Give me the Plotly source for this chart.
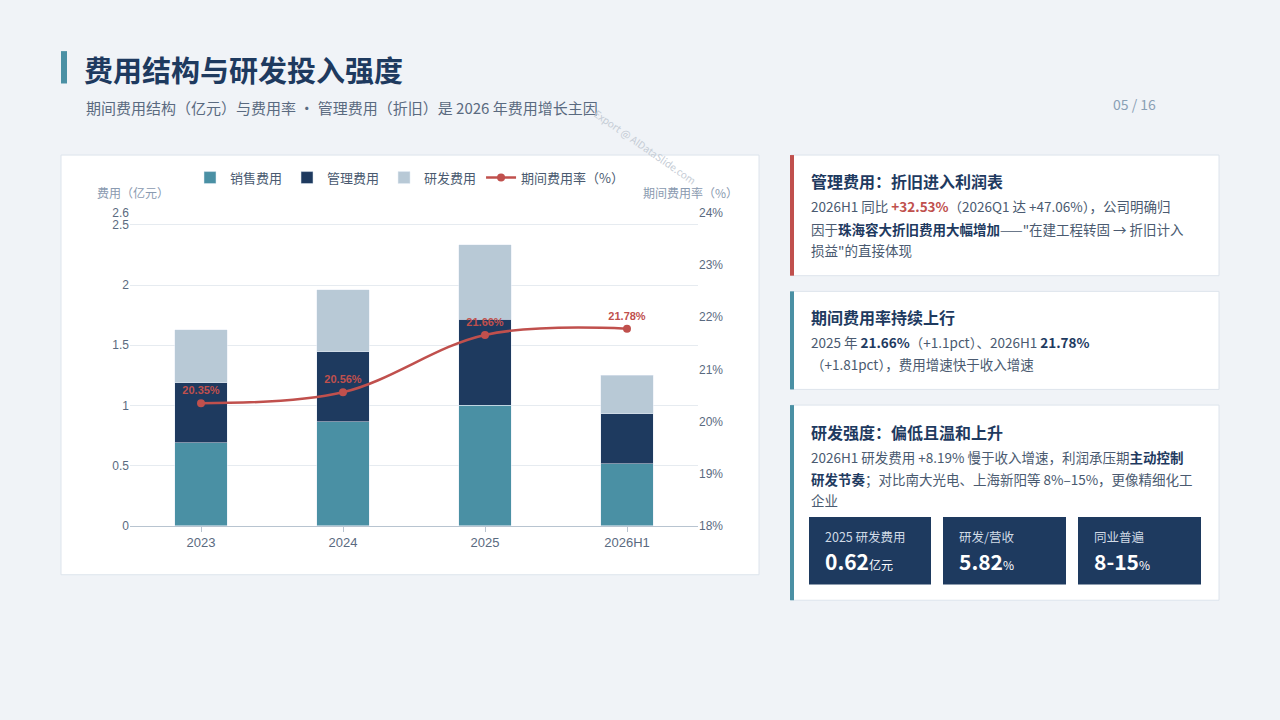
import plotly.graph_objects as go

years = ["2023", "2024", "2025", "2026H1"]
sales = [0.69, 0.865, 1.00, 0.515]
admin = [0.50, 0.58, 0.715, 0.415]
rnd = [0.44, 0.515, 0.62, 0.32]
rate = [20.35, 20.56, 21.66, 21.78]
rate_labels = ["20.35%", "20.56%", "21.66%", "21.78%"]
left_ticks = [0, 0.5, 1, 1.5, 2, 2.5, 2.6]
right_ticks = [18, 19, 20, 21, 22, 23, 24]

TEAL = "#4a90a4"
NAVY = "#1e3a5f"
LIGHT = "#b8c9d6"
RED = "#c0504d"
FONT = "Noto Sans CJK SC"
W, H = 1280, 720


def px(x):
    return x / W


def py(y):
    return 1 - y / H


fig = go.Figure()
fig.add_trace(go.Bar(name="销售费用", x=years, y=sales, marker_color=TEAL, width=0.37))
fig.add_trace(go.Bar(name="管理费用", x=years, y=admin, marker_color=NAVY, width=0.37))
fig.add_trace(go.Bar(name="研发费用", x=years, y=rnd, marker_color=LIGHT, width=0.37))
fig.add_trace(go.Scatter(
    name="期间费用率（%）", x=years, y=rate, yaxis="y2",
    mode="lines+markers+text", line={"color": RED, "width": 2.5, "shape": "spline"},
    marker={"size": 8, "color": RED}, text=rate_labels, textposition="top center",
    textfont={"color": RED, "size": 11, "family": "Liberation Sans"}, texttemplate="<b>%{text}</b>",
))


def rect(x0, x1, y0, y1, fill, line=None):
    return dict(type="rect", xref="paper", yref="paper", x0=px(x0), x1=px(x1), y0=py(y1), y1=py(y0),
                fillcolor=fill, line=line or {"width": 0}, layer="below")


shapes = [
    rect(61, 67, 45, 78, TEAL),
    rect(61, 759, 151, 579, "white", {"color": "#dde4ec", "width": 1}),
]
for y0, y1, col in [(151, 274, RED), (290, 390, TEAL), (406, 605, TEAL)]:
    shapes.append(rect(791, 1219, y0, y1, "white", {"color": "#dde4ec", "width": 1}))
    shapes.append(rect(790, 794, y0, y1, col))
for x0, x1 in [(809, 931), (943, 1066), (1078, 1201)]:
    shapes.append(rect(x0, x1, 520, 589, NAVY))

ann = []


def text(x, y, s, size=14, color="#4a5a70", xanchor="left", **kw):
    ann.append(dict(x=px(x), y=py(y), xref="paper", yref="paper", text=s, showarrow=False,
                    xanchor=xanchor, yanchor="middle", font={"size": size, "color": color, "family": FONT}, **kw))


text(82, 63, "<b>费用结构与研发投入强度</b>", 29, NAVY)
text(84, 103, "期间费用结构（亿元）与费用率 · 管理费用（折旧）是 2026 年费用增长主因", 15, "#5a6a80")
text(1158, 99, "05 / 16", 14, "#8aa0b5", xanchor="right")
text(645, 142, "Export @ AIDataSlide.com", 10, "#c5ccd5", xanchor="center", textangle=35)
text(95, 189, "费用（亿元）", 12, "#8a9ab0")
text(740, 189, "期间费用率（%）", 12, "#8a9ab0", xanchor="right")

B = NAVY
text(809, 177, "<b>管理费用：折旧进入利润表</b>", 16, NAVY)
text(809, 203, f"2026H1 同比 <b><span style='color:{RED}'>+32.53%</span></b>（2026Q1 达 +47.06%），公司明确归", 13.5)
text(809, 226, f"因于<b><span style='color:{B}'>珠海容大折旧费用大幅增加</span></b>——\"在建工程转固 → 折旧计入", 13.5)
text(809, 248, "损益\"的直接体现", 13.5)
text(809, 316, "<b>期间费用率持续上行</b>", 16, NAVY)
text(809, 342, f"2025 年 <b><span style='color:{B}'>21.66%</span></b>（+1.1pct）、2026H1 <b><span style='color:{B}'>21.78%</span></b>", 13.5)
text(809, 364, "（+1.81pct），费用增速快于收入增速", 13.5)
text(809, 433, "<b>研发强度：偏低且温和上升</b>", 16, NAVY)
text(809, 459, f"2026H1 研发费用 +8.19% 慢于收入增速，利润承压期<b><span style='color:{B}'>主动控制</span></b>", 13.5)
text(809, 481, f"<b><span style='color:{B}'>研发节奏</span></b>；对比南大光电、上海新阳等 8%–15%，更像精细化工", 13.5)
text(809, 503, "企业", 13.5)
for x, lab, val, unit in [(823, "2025 研发费用", "0.62", "亿元"), (957, "研发/营收", "5.82", "%"),
                          (1092, "同业普遍", "8-15", "%")]:
    text(x, 540, lab, 12.5, "#d0dae6")
    text(x, 565, f"<b>{val}</b><span style='font-size:12px'>{unit}</span>", 21, "white")

fig.update_layout(
    width=W, height=H, margin=dict(l=0, r=0, t=0, b=0),
    paper_bgcolor="#f0f3f7", plot_bgcolor="rgba(0,0,0,0)",
    barmode="stack", bargap=0.6,
    font={"family": FONT, "color": "#5a6a80"},
    shapes=shapes, annotations=ann,
    legend=dict(orientation="h", x=px(410), y=py(174), xanchor="center", yanchor="middle",
                traceorder="normal", font={"size": 13, "color": "#4a5a70"}, bgcolor="rgba(0,0,0,0)"),
    xaxis=dict(domain=[px(130), px(698)], showline=True, linecolor="#b8c4d0", ticks="outside",
               tickcolor="#b8c4d0", tickfont={"size": 13, "family": "Liberation Sans", "color": "#5a6a80"}),
    yaxis=dict(domain=[py(529), py(210)], range=[0, 2.6], tickvals=left_ticks,
               ticktext=[f"{v:g}" for v in left_ticks], gridcolor="#e6ebf0", zeroline=False,
               tickfont={"size": 12, "family": "Liberation Sans", "color": "#5a6a80"}),
    yaxis2=dict(overlaying="y", side="right", range=[18, 24], tickvals=right_ticks,
                ticktext=[f"{v}%" for v in right_ticks], showgrid=False, zeroline=False,
                tickfont={"size": 12, "family": "Liberation Sans", "color": "#5a6a80"}),
)

fig.write_html("out.html", config={"displayModeBar": False},
               post_script="document.body.style.margin='0';")
